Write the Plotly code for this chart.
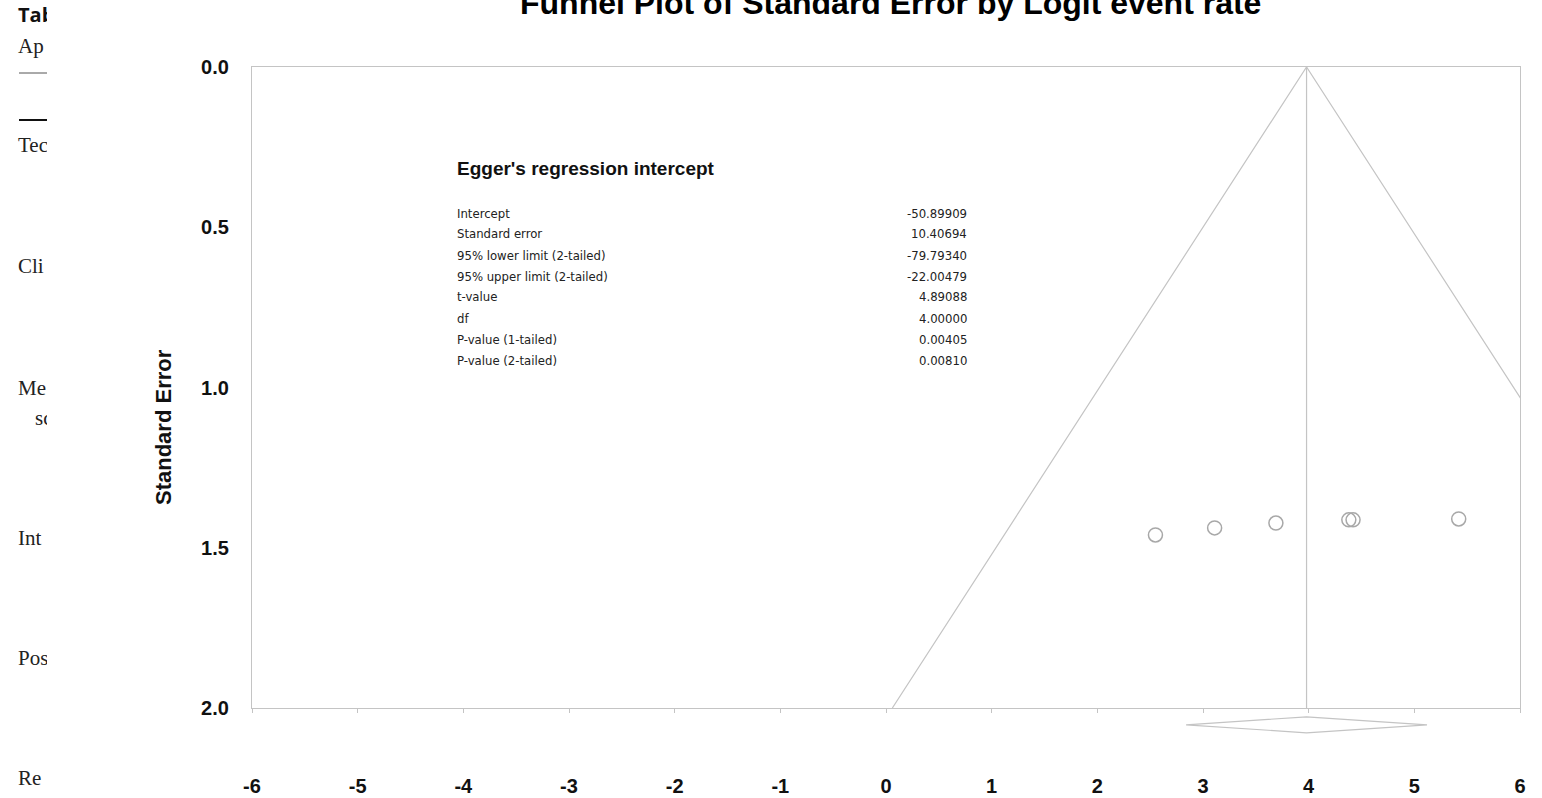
import plotly.graph_objects as go

# ---------------- data ----------------
study_logit = [2.55, 3.11, 3.69, 4.38, 4.42, 5.42]
study_se = [1.460, 1.438, 1.423, 1.413, 1.413, 1.410]
pooled_logit = 3.98
pooled_lower = 2.84
pooled_upper = 5.12
z_crit = 1.96
se_max = 2.0

x_tick_vals = [-6, -5, -4, -3, -2, -1, 0, 1, 2, 3, 4, 5, 6]
y_tick_vals = [0.0, 0.5, 1.0, 1.5, 2.0]

title_text = "Funnel Plot of Standard Error by Logit event rate"
y_title_text = "Standard Error"
egger_title = "Egger's regression intercept"
egger_labels = ["Intercept", "Standard error", "95% lower limit (2-tailed)",
                "95% upper limit (2-tailed)", "t-value", "df",
                "P-value (1-tailed)", "P-value (2-tailed)"]
egger_values = ["-50.89909", "10.40694", "-79.79340", "-22.00479",
                "4.89088", "4.00000", "0.00405", "0.00810"]

# fragments of the surrounding document (cropped at left edge)
frag_bold = ["Table 2"]
frag_serif = ["Ap", "Tec", "Cli", "Me", "sc", "Int", "Pos", "Re"]

# ---------------- layout helpers ----------------
W, H = 1542, 798
PX_L, PX_R, PX_T, PX_B = 252, 1520, 67, 708
STRIP_B = 750


def px_x(p):
    return p / W


def px_y(p):
    return 1 - p / H


GREY_LINE = "#c4c4c4"
GREY_MARK = "#a8a8a8"
BOLD_FONT = "Liberation Sans, Arial, sans-serif"
NARROW_FONT = "Liberation Sans Narrow, Arial Narrow, DejaVu Sans Condensed, sans-serif"

fig = go.Figure()

# funnel (95% limits)
fig.add_trace(go.Scatter(
    x=[pooled_logit - z_crit * se_max, pooled_logit, pooled_logit + z_crit * se_max],
    y=[se_max, 0, se_max],
    mode="lines", line=dict(color=GREY_LINE, width=1.2),
    hoverinfo="skip", showlegend=False, xaxis="x", yaxis="y"))

# vertical pooled line
fig.add_trace(go.Scatter(
    x=[pooled_logit, pooled_logit], y=[0, se_max],
    mode="lines", line=dict(color=GREY_LINE, width=1.2),
    hoverinfo="skip", showlegend=False, xaxis="x", yaxis="y"))

# studies
fig.add_trace(go.Scatter(
    x=study_logit, y=study_se, mode="markers",
    marker=dict(symbol="circle-open", size=14, color=GREY_MARK, line=dict(width=1.5, color=GREY_MARK)),
    showlegend=False, xaxis="x", yaxis="y"))

# pooled diamond (in strip under the axis)
dc, dh = 0.40, 0.19
fig.add_trace(go.Scatter(
    x=[pooled_lower, pooled_logit, pooled_upper, pooled_logit, pooled_lower],
    y=[dc, dc - dh, dc, dc + dh, dc],
    mode="lines", line=dict(color=GREY_LINE, width=1.2),
    hoverinfo="skip", showlegend=False, xaxis="x2", yaxis="y2"))

# document fragments (clipped)
fig.add_trace(go.Scatter(
    x=[18], y=[17], text=frag_bold, mode="text", textposition="middle right",
    textfont=dict(family="Open Sans, Liberation Sans, sans-serif", size=20, color="#111", weight="bold"),
    cliponaxis=True, hoverinfo="skip", showlegend=False, xaxis="x3", yaxis="y3"))
frag_x = [18, 18, 18, 18, 35, 18, 18, 18]
frag_y = [48, 147, 268, 390, 420, 540, 660, 780]
fig.add_trace(go.Scatter(
    x=frag_x, y=frag_y, text=frag_serif, mode="text", textposition="middle right",
    textfont=dict(family="Liberation Serif, Times New Roman, serif", size=21, color="#222"),
    cliponaxis=True, hoverinfo="skip", showlegend=False, xaxis="x3", yaxis="y3"))
fig.add_trace(go.Scatter(
    x=[19, 70], y=[73, 73], mode="lines", line=dict(color="#555", width=1),
    hoverinfo="skip", showlegend=False, xaxis="x3", yaxis="y3"))
fig.add_trace(go.Scatter(
    x=[19, 70], y=[120, 120], mode="lines", line=dict(color="#111", width=2.2),
    hoverinfo="skip", showlegend=False, xaxis="x3", yaxis="y3"))

annotations = []
# title (cropped at top)
annotations.append(dict(
    text="<b>" + title_text + "</b>", xref="paper", yref="paper",
    x=px_x(891), y=px_y(3), xanchor="center", yanchor="middle", showarrow=False,
    font=dict(family=BOLD_FONT, size=32, color="#000")))
# y-axis title
annotations.append(dict(
    text="<b>" + y_title_text + "</b>", xref="paper", yref="paper",
    x=px_x(163), y=px_y(427), xanchor="center", yanchor="middle", textangle=-90,
    showarrow=False, font=dict(family=BOLD_FONT, size=22, color="#111")))
# Egger block
annotations.append(dict(
    text="<b>" + egger_title + "</b>", xref="paper", yref="paper",
    x=px_x(455), y=px_y(169), xanchor="left", yanchor="middle", showarrow=False,
    font=dict(family=BOLD_FONT, size=19, color="#111")))
for i, (lab, val) in enumerate(zip(egger_labels, egger_values)):
    yy = px_y(213 + 21 * i)
    annotations.append(dict(
        text=lab, xref="paper", yref="paper", x=px_x(455), y=yy,
        xanchor="left", yanchor="middle", showarrow=False,
        font=dict(family=NARROW_FONT, size=13, color="#222")))
    annotations.append(dict(
        text=val, xref="paper", yref="paper", x=px_x(969), y=yy,
        xanchor="right", yanchor="middle", showarrow=False,
        font=dict(family=NARROW_FONT, size=13, color="#222")))

tick_font = dict(family=BOLD_FONT, size=20, color="#111", weight="bold")

fig.update_layout(
    width=W, height=H,
    margin=dict(l=0, r=0, t=0, b=0),
    paper_bgcolor="white", plot_bgcolor="white",
    showlegend=False,
    annotations=annotations,
    xaxis=dict(domain=[px_x(PX_L), px_x(PX_R)], range=[-6, 6], anchor="y",
               showline=True, linecolor=GREY_LINE, linewidth=1.2, mirror=True,
               ticks="outside", ticklen=4, tickcolor=GREY_LINE,
               tickvals=x_tick_vals, ticktext=[str(v) for v in x_tick_vals],
               tickfont=tick_font, ticklabelstandoff=56,
               showgrid=False, zeroline=False, automargin=False),
    yaxis=dict(domain=[px_y(PX_B), px_y(PX_T)], range=[se_max, 0], anchor="x",
               showline=True, linecolor=GREY_LINE, linewidth=1.2, mirror=True,
               ticks="", tickvals=y_tick_vals, tickformat=".1f",
               tickfont=tick_font, ticklabelstandoff=18,
               showgrid=False, zeroline=False, automargin=False),
    xaxis2=dict(domain=[px_x(PX_L), px_x(PX_R)], range=[-6, 6], anchor="y2",
                visible=False, automargin=False),
    yaxis2=dict(domain=[px_y(STRIP_B), px_y(PX_B)], range=[1, 0], anchor="x2",
                visible=False, automargin=False),
    xaxis3=dict(domain=[0, px_x(47)], range=[0, 47], anchor="y3",
                visible=False, automargin=False),
    yaxis3=dict(domain=[0, 1], range=[H, 0], anchor="x3",
                visible=False, automargin=False),
)

fig.write_html("out.html")
